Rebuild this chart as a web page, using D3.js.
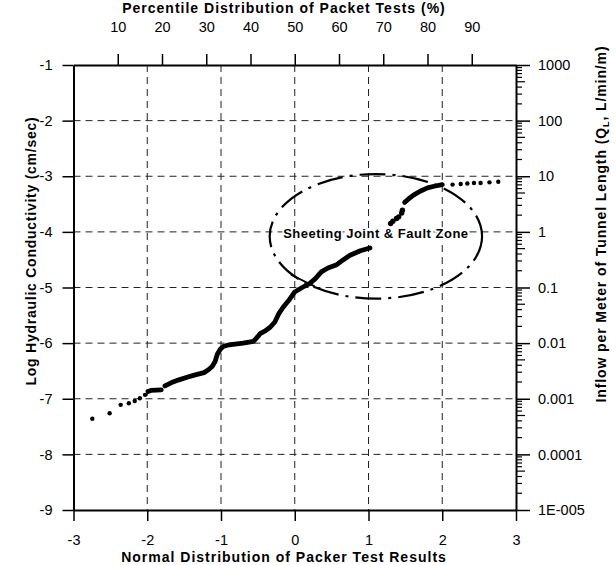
<!DOCTYPE html>
<html>
<head>
<meta charset="utf-8">
<script src="https://cdn.jsdelivr.net/npm/d3@7.9.0/dist/d3.min.js"></script>
<style>
  body { margin: 0; background: #fff; }
  svg { display: block; font-family: "Liberation Sans", Arial, sans-serif; }
</style>
</head>
<body>
<svg id="chart" width="616" height="565"></svg>
<script>
// tick values
const zTicks = [-3, -2, -1, 0, 1, 2, 3];
const logKTicks = [-1, -2, -3, -4, -5, -6, -7, -8, -9];
const pctTicks = [10, 20, 30, 40, 50, 60, 70, 80, 90];
const inflowTicks = [1000, 100, 10, 1, 0.1, 0.01, 0.001, 0.0001, 0.00001];
const inflowLabels = ['1000', '100', '10', '1', '0.1', '0.01', '0.001', '0.0001', '1E-005'];

// packer test results: [normal score, log K]
const sparseLow = [[-2.745, -7.36], [-2.51, -7.26], [-2.36, -7.11], [-2.25, -7.08],
  [-2.17, -7.04], [-2.10, -6.99], [-2.03, -6.93]];
const denseLow = [[-1.99, -6.87], [-1.95, -6.85], [-1.81, -6.84]];
const denseMid = [[-1.76, -6.77], [-1.67, -6.71], [-1.57, -6.66], [-1.45, -6.61], [-1.35, -6.57],
  [-1.23, -6.53], [-1.17, -6.48], [-1.12, -6.42], [-1.08, -6.33], [-1.05, -6.20], [-1.01, -6.11],
  [-0.97, -6.06], [-0.89, -6.03], [-0.70, -6.00], [-0.56, -5.97], [-0.50, -5.88], [-0.47, -5.83],
  [-0.40, -5.78], [-0.33, -5.71], [-0.27, -5.62], [-0.22, -5.48], [-0.16, -5.36], [-0.08, -5.23],
  [0.00, -5.08], [0.10, -5.00], [0.20, -4.93], [0.28, -4.84], [0.36, -4.72], [0.45, -4.65],
  [0.57, -4.59], [0.66, -4.50], [0.75, -4.42], [0.89, -4.34], [1.02, -4.29]];
const blobs = [[1.30, -3.85], [1.33, -3.81], [1.38, -3.76], [1.41, -3.73], [1.45, -3.66], [1.46, -3.61]];
const denseHigh = [[1.49, -3.47], [1.55, -3.40], [1.61, -3.34], [1.70, -3.27], [1.80, -3.21],
  [1.89, -3.18], [2.00, -3.15]];
const sparseHigh = [[2.14, -3.15], [2.25, -3.14], [2.34, -3.13], [2.43, -3.12], [2.52, -3.12],
  [2.64, -3.11], [2.76, -3.10]];

// annotation: ellipse [center z, center logK, radius z, radius logK] and pointer line
const zoneEllipse = [1.10, -4.08, 1.44, 1.12];
const pointer = [[-0.05, -4.77], [0.27, -4.98]];
const zoneLabel = 'Sheeting Joint & Fault Zone';

const svg = d3.select('#chart');
const plotL = 73.5, plotR = 516, plotT = 65, plotB = 510;

const x = d3.scaleLinear().domain([-3, 3]).range([plotL, plotR]);
const y = d3.scaleLinear().domain([-1, -9]).range([plotT, plotB]);
const xPct = d3.scaleLinear().domain([0, 100]).range([plotL, plotR]);
const yQ = d3.scaleLog().domain([0.00001, 1000]).range([plotB, plotT]);

// grid
const grid = svg.append('g').attr('stroke', '#222').attr('stroke-width', 1)
  .attr('stroke-dasharray', '7,5');
grid.selectAll('.gx').data(zTicks.slice(1, -1)).enter().append('line')
  .attr('x1', d => x(d)).attr('x2', d => x(d)).attr('y1', plotT).attr('y2', plotB);
grid.selectAll('.gy').data(logKTicks.slice(1, -1)).enter().append('line')
  .attr('x1', plotL).attr('x2', plotR).attr('y1', d => y(d)).attr('y2', d => y(d));

function styleAxis(g) {
  g.select('.domain').attr('stroke-width', 2);
  g.selectAll('.tick line').attr('stroke-width', 1.5);
  g.selectAll('.tick text').attr('font-size', 14.5).attr('fill', '#000')
    .attr('font-family', '"Liberation Sans", Arial, sans-serif');
}
const plain = d => String(d);

svg.append('g').attr('transform', `translate(0,${plotB})`)
  .call(d3.axisBottom(x).tickValues(zTicks).tickSize(11).tickSizeOuter(0).tickPadding(14)
    .tickFormat(plain))
  .call(styleAxis);

svg.append('g').attr('transform', `translate(0,${plotT})`)
  .call(d3.axisTop(xPct).tickValues(pctTicks).tickSize(11).tickSizeOuter(0).tickPadding(22))
  .call(styleAxis)
  .call(g => g.selectAll('.tick text').attr('dy', '0em'));

svg.append('g').attr('transform', `translate(${plotL},0)`)
  .call(d3.axisLeft(y).tickValues(logKTicks).tickSize(11).tickSizeOuter(0).tickPadding(10)
    .tickFormat(plain))
  .call(styleAxis);

// minor log ticks on right axis
const minor = [];
inflowTicks.slice(1).forEach(dec => { for (let k = 2; k <= 9; k++) minor.push([dec * k, k]); });
svg.append('g').selectAll('line').data(minor).enter().append('line')
  .attr('x1', plotR).attr('x2', d => plotR + (d[1] === 5 ? 9 : 6))
  .attr('y1', d => yQ(d[0])).attr('y2', d => yQ(d[0]))
  .attr('stroke', '#000').attr('stroke-width', 1.2);

svg.append('g').attr('transform', `translate(${plotR},0)`)
  .call(d3.axisRight(yQ).tickValues(inflowTicks).tickSize(14).tickSizeOuter(0).tickPadding(8)
    .tickFormat((d, i) => inflowLabels[i]))
  .call(styleAxis);

// data
const line = d3.line().x(d => x(d[0])).y(d => y(d[1]));
const marks = svg.append('g');
[denseLow, denseMid, denseHigh].forEach(seg => {
  marks.append('path').attr('d', line(seg)).attr('fill', 'none').attr('stroke', '#000')
    .attr('stroke-width', 4.8).attr('stroke-linecap', 'round').attr('stroke-linejoin', 'round');
});
marks.selectAll('circle.s').data(sparseLow.concat(sparseHigh)).enter().append('circle')
  .attr('cx', d => x(d[0])).attr('cy', d => y(d[1])).attr('r', 2.2).attr('fill', '#000');
marks.selectAll('circle.b').data(blobs).enter().append('circle')
  .attr('cx', d => x(d[0])).attr('cy', d => y(d[1])).attr('r', 2.7).attr('fill', '#000');

// annotation
const [ecx, ecy, erx, ery] = zoneEllipse;
svg.append('ellipse')
  .attr('cx', x(ecx)).attr('cy', y(ecy))
  .attr('rx', x(ecx + erx) - x(ecx)).attr('ry', y(ecy - ery) - y(ecy))
  .attr('fill', 'none').attr('stroke', '#000').attr('stroke-width', 2.2)
  .attr('stroke-dasharray', '26,7,3,7');
svg.append('line')
  .attr('x1', x(pointer[0][0])).attr('y1', y(pointer[0][1]))
  .attr('x2', x(pointer[1][0])).attr('y2', y(pointer[1][1]))
  .attr('stroke', '#000').attr('stroke-width', 1.8);
svg.append('text')
  .attr('x', x(ecx)).attr('y', y(ecy) + 2)
  .attr('text-anchor', 'middle').attr('font-size', 13).attr('font-weight', 'bold')
  .attr('letter-spacing', 0.5)
  .attr('stroke', '#fff').attr('stroke-width', 3.5).attr('paint-order', 'stroke')
  .attr('fill', '#000').text(zoneLabel);

// titles
const titleFont = t => t.attr('font-size', 14).attr('font-weight', 'bold').attr('fill', '#000');
svg.append('text').attr('x', 284).attr('y', 13).attr('text-anchor', 'middle')
  .call(titleFont).attr('letter-spacing', 1).text('Percentile Distribution of Packet Tests (%)');
svg.append('text').attr('x', 284).attr('y', 562).attr('text-anchor', 'middle')
  .call(titleFont).attr('letter-spacing', 1).text('Normal Distribution of Packer Test Results');
svg.append('text').attr('transform', 'translate(36,251) rotate(-90)').attr('text-anchor', 'middle')
  .call(titleFont).attr('letter-spacing', 0.75).text('Log Hydraulic Conductivity (cm/sec)');
const rt = svg.append('text').attr('transform', 'translate(606,224) rotate(-90)')
  .attr('text-anchor', 'middle').call(titleFont).attr('letter-spacing', 0.9);
rt.append('tspan').text('Inflow per Meter of Tunnel Length (Q');
rt.append('tspan').attr('font-size', 9).attr('dy', 3).text('L');
rt.append('tspan').attr('dy', -3).text(', L/min/m)');
</script>
</body>
</html>
